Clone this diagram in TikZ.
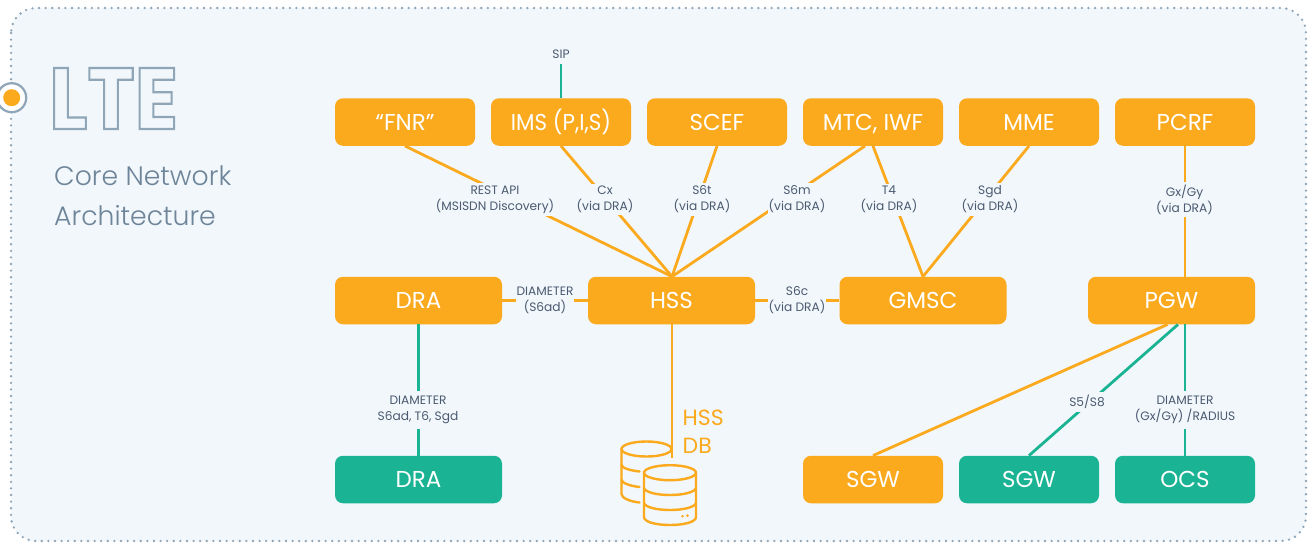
\documentclass[tikz,border=0pt]{standalone}
\usepackage{graphicx}
\usepackage{fontspec}
\setmainfont{Poppins}
\newfontfamily\lightf{Poppins Light}
\definecolor{orng}{HTML}{FBA91D}
\definecolor{grn}{HTML}{1AB394}
\definecolor{panel}{HTML}{F2F7FB}
\definecolor{steel}{HTML}{8FA5B8}
\definecolor{labelc}{HTML}{4A5A70}
\definecolor{titlec}{HTML}{6D8499}
\tikzset{
  x=1pt,y=-1pt,
  box/.style={rounded corners=8pt,text=white,inner sep=0pt,minimum height=47.5pt,text height=16pt,text depth=0pt,font=\fontsize{23}{26}\selectfont},
  oshort/.style={box,fill=orng,minimum width=140pt},
  owide/.style={box,fill=orng,minimum width=167pt},
  gshort/.style={box,fill=grn,minimum width=140pt},
  gwide/.style={box,fill=grn,minimum width=167pt},
  ol/.style={draw=orng,line width=2.8pt},
  gl/.style={draw=grn,line width=2.8pt},
  lab/.style={fill=panel,text=labelc,align=center,inner xsep=1pt,inner ysep=2.5pt,font=\fontsize{12.2}{16}\selectfont},
  dbline/.style={draw=orng,line width=2.4pt,line cap=round,line join=round},
}
\begin{document}
\begin{tikzpicture}
\useasboundingbox (0,0) rectangle (1310,542);
\clip (0,0) rectangle (1310,542);
\fill[white] (0,0) rectangle (1310,542);
\draw[fill=panel,draw=steel,line width=2.6pt,line cap=round,dash pattern=on 0pt off 6.6pt,rounded corners=25pt] (11,8) rectangle (1306,541);
% marker
\draw[steel,fill=white,line width=2.2pt] (11.7,97.7) circle (14.5);
\fill[orng] (11.7,97.7) circle (8.5);
% title
\node[anchor=base west,inner sep=0pt] (lte) at (49,129) {\scalebox{.92}[1]{\fontsize{87}{87}\selectfont\bfseries\special{pdf:code 1 Tr 2.2 w 0.56 0.65 0.72 RG 0 j}LTE\special{pdf:code 0 Tr 1 w 0 0 0 RG}}};
\node[anchor=base west,inner sep=0pt,align=left,text=titlec,font=\lightf\fontsize{26.7}{40}\selectfont] (sub) at (54,225) {Core Network\\Architecture};
% boxes
\node[oshort] (fnr) at (405,122) {“FNR”};
\node[oshort] (ims) at (561,122) {\scalebox{.93}[1]{IMS (P,I,S)}};
\node[oshort] (scef) at (717,122) {SCEF};
\node[oshort] (mtc) at (873,122) {MTC, IWF};
\node[oshort] (mme) at (1029,122) {MME};
\node[oshort] (pcrf) at (1185,122) {PCRF};
\node[owide] (dra) at (418.5,300.5) {DRA};
\node[owide] (hss) at (671.5,300.5) {HSS};
\node[owide] (gmsc) at (923,300.5) {GMSC};
\node[owide] (pgw) at (1171.5,300.5) {PGW};
\node[gwide] (dra2) at (418.5,479.5) {DRA};
\node[oshort] (sgwo) at (873,479.5) {SGW};
\node[gshort] (sgwg) at (1029,479.5) {SGW};
\node[gshort] (ocs) at (1185,479.5) {OCS};
% free end
\coordinate (sipend) at (561,64);
\coordinate (dbtop) at (672,458);
% connectors
\draw[gl] (ims.north) -- (sipend);
\draw[ol] (fnr.south) -- ([xshift=.5pt]hss.north);
\draw[ol] (ims.south) -- ([xshift=.5pt]hss.north);
\draw[ol] (scef.south) -- ([xshift=.5pt]hss.north);
\draw[ol] ([xshift=-8pt]mtc.south) -- ([xshift=.5pt]hss.north);
\draw[ol] (mtc.south) -- (gmsc.north);
\draw[ol] (mme.south) -- (gmsc.north);
\draw[ol] (pcrf.south) -- ([xshift=13.5pt]pgw.north);
\draw[ol] (dra.east) -- (hss.west);
\draw[ol] (hss.east) -- (gmsc.west);
\draw[gl] (dra.south) -- (dra2.north);
\draw[ol] ([xshift=.5pt]hss.south) -- (dbtop);
\draw[ol] ([xshift=-4pt]pgw.south) -- (sgwo.north);
\draw[gl] ([xshift=6.5pt]pgw.south) -- (sgwg.north);
\draw[gl] ([xshift=13.5pt]pgw.south) -- (ocs.north);
% labels
\node[lab,fill=none] (lsip) at (561,54) {SIP};
\node[lab] (lrest) at (495,199.5) {REST API\\(MSISDN Discovery)};
\node[lab] (lcx) at (605,199.5) {Cx\\(via DRA)};
\node[lab] (ls6t) at (702,199.5) {S6t\\(via DRA)};
\node[lab] (ls6m) at (797,199.5) {S6m\\(via DRA)};
\node[lab] (lt4) at (889,199.5) {T4\\(via DRA)};
\node[lab] (lsgd) at (990,199.5) {Sgd\\(via DRA)};
\node[lab] (lgx) at (1184.5,199.5) {Gx/Gy\\(via DRA)};
\node[lab] (ldia) at (545,300.5) {DIAMETER\\(S6ad)};
\node[lab] (ls6c) at (797,300.5) {S6c\\(via DRA)};
\node[lab,inner ysep=5pt] (ldia2) at (418,410) {DIAMETER\\S6ad, T6, Sgd};
\node[lab,inner ysep=3pt] (ls5) at (1087,402) {S5/S8};
\node[lab,inner ysep=5pt] (ldia3) at (1185,410) {DIAMETER\\(Gx/Gy) /RADIUS};
% database icon
\node[anchor=base west,inner sep=0pt,align=left,text=orng,font=\fontsize{22}{28}\selectfont] (hssdb) at (682.5,453) {HSS\\DB};
\draw[dbline] (646.5,449) ellipse (25 and 7.5);
\draw[dbline] (621.5,449) -- (621.5,494) .. controls (621.5,498) and (630,501.5) .. (639.5,502.5);
\draw[dbline] (621.5,465) .. controls (622,468) and (630,470.5) .. (639.5,471.5);
\draw[dbline] (621.5,480) .. controls (622,483) and (630,486) .. (639.5,487);
\draw[dbline] (670,472.7) ellipse (26 and 7.5);
\draw[dbline] (644,472.7) -- (644,517) .. controls (644,522) and (656,525) .. (670,525) .. controls (684,525) and (696,522) .. (696,517) -- (696,472.7);
\draw[dbline] (644,488) .. controls (645,492) and (656,495) .. (670,495) .. controls (684,495) and (695,492) .. (696,488);
\draw[dbline] (644,503) .. controls (645,507) and (656,510) .. (670,510) .. controls (684,510) and (695,507) .. (696,503);
\fill[orng] (682.5,516.3) circle (1.4) (687.5,515.6) circle (1.4);
\end{tikzpicture}
\end{document}
